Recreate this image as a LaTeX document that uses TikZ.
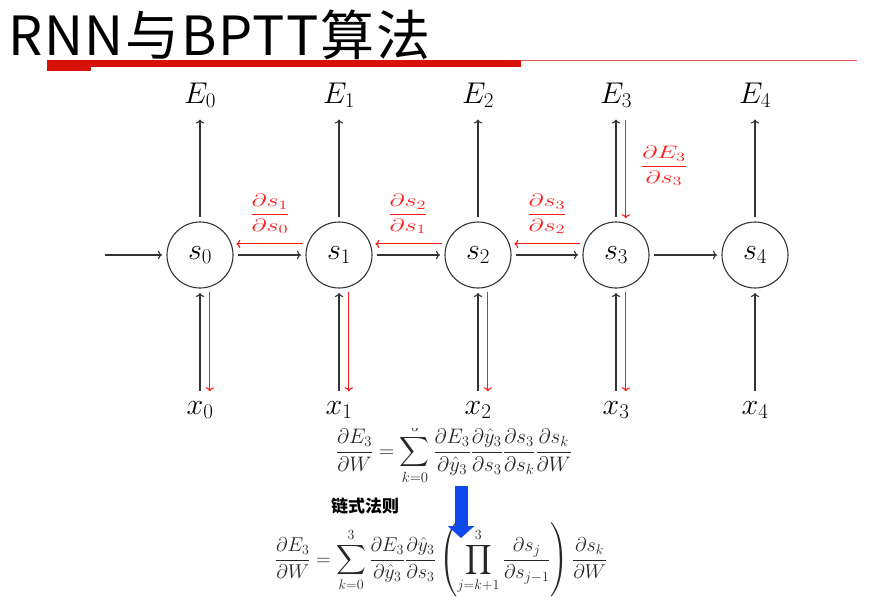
\RequirePackage{fix-cm}
\documentclass[tikz,border=0pt]{standalone}
\usepackage{amsmath}
\usepackage{graphicx}
\usepackage[no-math]{fontspec}
\newfontfamily\cjk{Noto Sans CJK SC}
\usetikzlibrary{arrows.meta,calc}
\definecolor{barred}{RGB}{214,18,10}
\definecolor{gradred}{RGB}{255,25,25}
\definecolor{dropblue}{RGB}{16,72,240}
\newcommand{\gradfrac}[2]{\scalebox{1.45}[1]{$\dfrac{#1}{#2}$}}

\begin{document}
\begin{tikzpicture}[x=1pt,y=-1pt,
  state/.style={circle, draw=black!80, line width=1.1pt, minimum size=66pt, inner sep=0pt, outer sep=5pt,
    font=\fontsize{30}{30}\selectfont},
  toplbl/.style={font=\fontsize{30}{30}\selectfont, inner sep=0pt, outer sep=12pt},
  botlbl/.style={font=\fontsize{30}{30}\selectfont, inner sep=0pt, outer sep=10pt},
  fwd/.style={->, line width=1.1pt, black!80},
  bwd/.style={->, line width=1.1pt, gradred},
  grad/.style={text=gradred, font=\fontsize{18}{18}\selectfont, inner sep=0pt},
  formula/.style={text=black!85, inner sep=0pt}]
  \useasboundingbox (0,0) rectangle (875,603);

  % title and bar
  \node[anchor=west, inner sep=0pt, font=\cjk\fontsize{54}{54}\selectfont\addfontfeatures{LetterSpace=3}] (title) at (8,35) {RNN与BPTT算法};
  \fill[barred] (47,60) rectangle (521,67);
  \fill[barred] (47,60) rectangle (91,71);
  \draw[barred!70, line width=0.8pt] (521,60) -- (857,60);

  % states
  \node[state] (s0) at (200,255) {$s_0$};
  \node[state] (s1) at (339,255) {$s_1$};
  \node[state] (s2) at (478,255) {$s_2$};
  \node[state] (s3) at (616,255) {$s_3$};
  \node[state] (s4) at (755,255) {$s_4$};

  \node[toplbl] (E0) at (200,95) {$E_0$};
  \node[toplbl] (E1) at (339,95) {$E_1$};
  \node[toplbl] (E2) at (478,95) {$E_2$};
  \node[toplbl] (E3) at (616,95) {$E_3$};
  \node[toplbl] (E4) at (755,95) {$E_4$};

  \node[botlbl] (x0) at (200,410) {$x_0$};
  \node[botlbl] (x1) at (339,410) {$x_1$};
  \node[botlbl] (x2) at (478,410) {$x_2$};
  \node[botlbl] (x3) at (616,410) {$x_3$};
  \node[botlbl] (x4) at (755,410) {$x_4$};

  \coordinate (in) at (105,255);

  % forward pass
  \draw[fwd] (in) -- (s0);
  \draw[fwd] (s0) -- (s1);
  \draw[fwd] (s1) -- (s2);
  \draw[fwd] (s2) -- (s3);
  \draw[fwd] (s3) -- (s4);
  \foreach \i in {0,...,4} {
    \draw[fwd] (s\i) -- (E\i);
    \draw[fwd] (x\i) -- (s\i);
  }

  % backward pass
  \draw[bwd] (s1.163) -- (s0.17);
  \draw[bwd] (s2.163) -- (s1.17);
  \draw[bwd] (s3.163) -- (s2.17);
  \draw[bwd] (s3.75 |- E3.south) -- (s3.75);
  \foreach \i in {0,...,3}
    \draw[bwd] (s\i.-75) -- (s\i.-75 |- x\i.north);

  \node[grad] (g10) at (270,214) {\gradfrac{\partial s_1}{\partial s_0}};
  \node[grad] (g21) at (408,214) {\gradfrac{\partial s_2}{\partial s_1}};
  \node[grad] (g32) at (547,214) {\gradfrac{\partial s_3}{\partial s_2}};
  \node[grad] (gE3) at (664,166) {\gradfrac{\partial E_3}{\partial s_3}};

  % formulas
  \begin{scope}
    \clip (250,428) rectangle (640,492);
    \node[formula, font=\fontsize{21}{21}\selectfont] (f1) at (454,452)
      {$\displaystyle \frac{\partial E_3}{\partial W}=\sum_{k=0}^{3}\frac{\partial E_3}{\partial \hat{y}_3}\frac{\partial \hat{y}_3}{\partial s_3}\frac{\partial s_3}{\partial s_k}\frac{\partial s_k}{\partial W}$};
  \end{scope}
  \node[inner sep=0pt, font=\cjk\bfseries\fontsize{17}{17}\selectfont] (rule) at (365,506) {链式法则};
  \node[formula, font=\fontsize{20}{20}\selectfont] (f2) at (441,560)
    {$\displaystyle \frac{\partial E_3}{\partial W}=\sum_{k=0}^{3}\frac{\partial E_3}{\partial \hat{y}_3}\frac{\partial \hat{y}_3}{\partial s_3}\left(\prod_{j=k+1}^{3}\frac{\partial s_j}{\partial s_{j-1}}\right)\frac{\partial s_k}{\partial W}$};
  \coordinate (dtop) at (461,486);
  \coordinate (dtip) at (461,538);
  \draw[dropblue, line width=13pt, -{Triangle[width=26pt,length=12pt]}] (dtop) -- (dtip);
\end{tikzpicture}
\end{document}
